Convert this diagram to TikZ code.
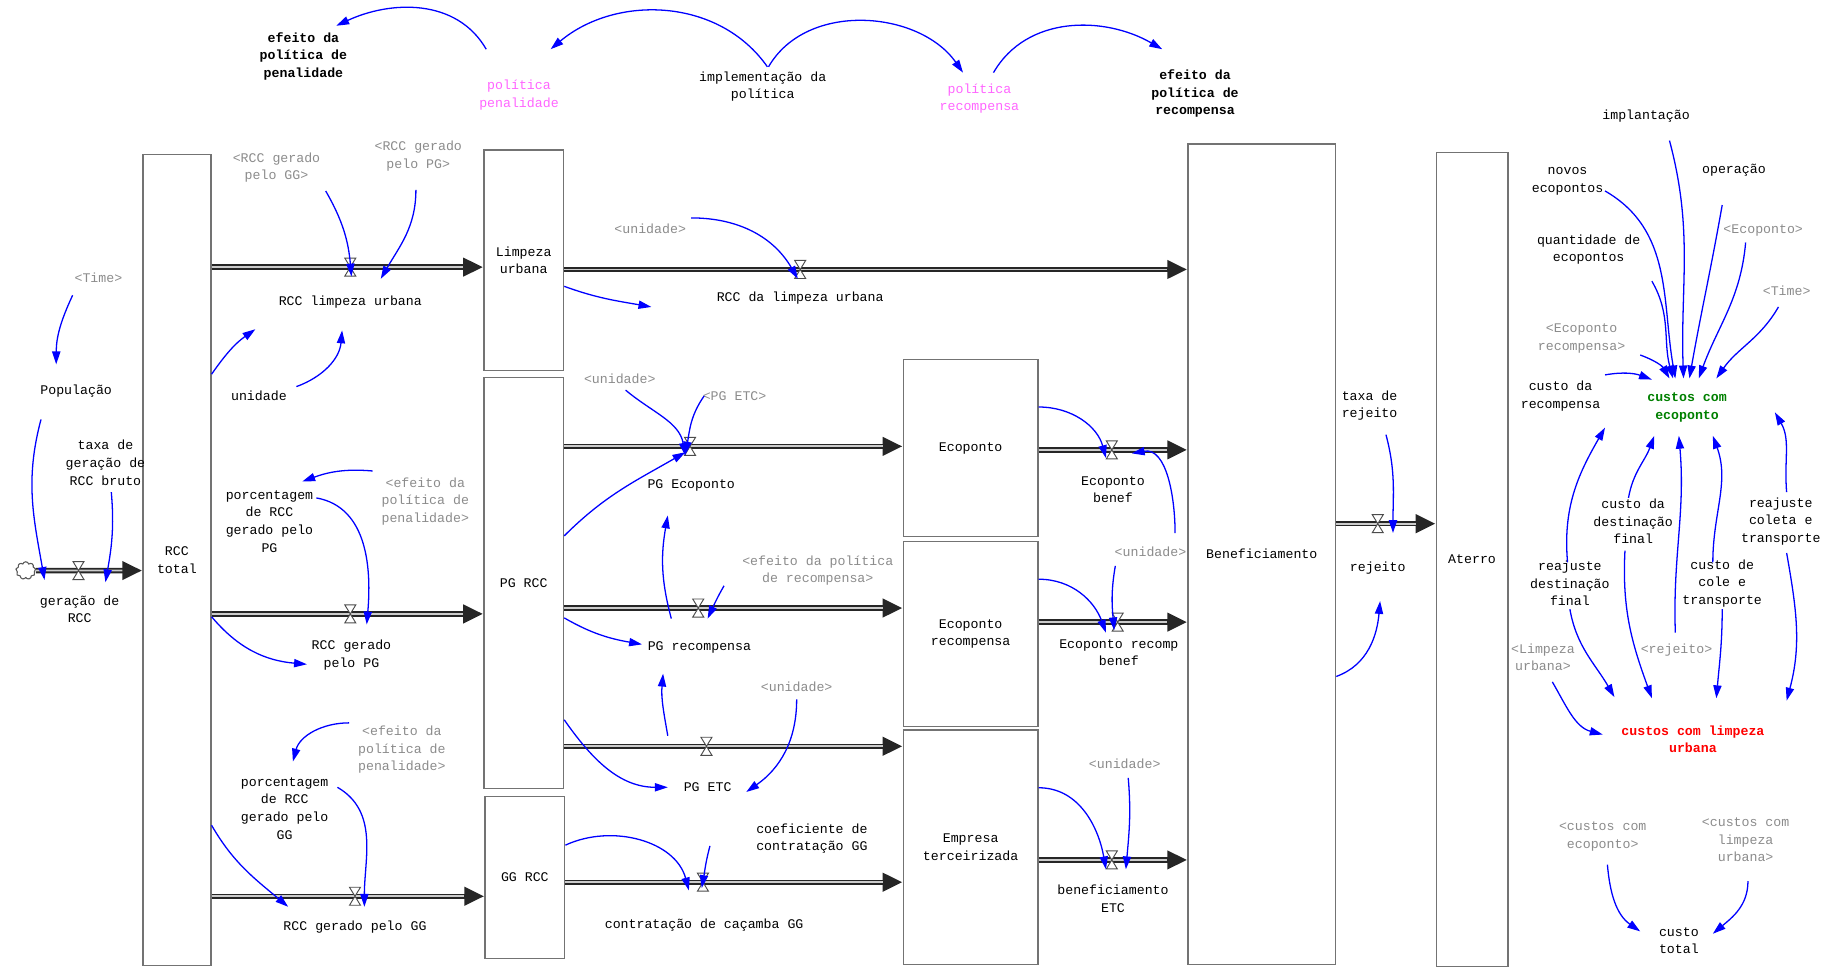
\documentclass[tikz,border=0pt]{standalone}
\usepackage{fontspec}
\setmainfont{Liberation Mono}
\usetikzlibrary{arrows.meta,calc,shapes.symbols}
\definecolor{linkblue}{RGB}{0,0,255}
\definecolor{polpink}{RGB}{255,102,255}
\definecolor{ecogreen}{RGB}{0,128,0}
\definecolor{shgrey}{RGB}{140,140,140}
\newcommand\fs{\fontsize{11.3}{15}\selectfont}
\newcommand\flowpipe[2]{\draw[pipeout] #1 -- #2; \draw[pipein] #1 -- #2;}
\newcommand\hglass[1]{\draw[valveline] (#1.north west) -- (#1.north east) -- (#1.south west) -- (#1.south east) -- cycle;}
\tikzset{
  lbl/.style={font=\fs, align=center, inner sep=1pt},
  bld/.style={lbl, font=\fs\bfseries},
  shd/.style={lbl, text=shgrey},
  stockbox/.style={draw=black!55, line width=1.2pt, fill=white, inner sep=0, font=\fs, align=center},
  valvebox/.style={inner sep=0, minimum width=9pt, minimum height=15pt},
  valveline/.style={draw=black!70, fill=white, line width=0.8pt},
  link/.style={draw=linkblue, line width=1.1pt, -{Triangle[length=11pt,width=7pt]}},
  pipeout/.style={draw=black!85, line width=4.6pt, -{Triangle[length=17pt,width=15pt]}},
  pipein/.style={draw=black!20, line width=1.6pt, shorten >=17pt},
}
\begin{document}
\begin{tikzpicture}[x=1pt,y=-1pt]
\useasboundingbox (0,0) rectangle (1568,825);
\fill[white] (0,0) rectangle (1568,825);

% ---------- stocks ----------
\node[stockbox, minimum width=58pt, minimum height=692pt] (rcct) at (151,478) {RCC\\total};
\node[stockbox, minimum width=68pt, minimum height=188pt] (limp) at (447,222) {Limpeza\\urbana};
\node[stockbox, minimum width=68pt, minimum height=351pt] (pgrcc) at (447,497.5) {PG RCC};
\node[stockbox, minimum width=68pt, minimum height=138pt] (ggrcc) at (448,749) {GG RCC};
\node[stockbox, minimum width=115pt, minimum height=151pt] (ecop) at (828.5,382.5) {Ecoponto};
\node[stockbox, minimum width=115pt, minimum height=158pt] (ecor) at (828.5,541) {Ecoponto\\recompensa};
\node[stockbox, minimum width=115pt, minimum height=200pt] (emp) at (828.5,723) {Empresa\\terceirizada};
\node[stockbox, minimum width=126pt, minimum height=700pt] (benef) at (1077,473) {Beneficiamento};
\node[stockbox, minimum width=61pt, minimum height=695pt] (aterro) at (1256.5,477.5) {Aterro};

\node[cloud, draw=black!65, fill=white, line width=0.9pt, cloud puffs=9, aspect=1.1, minimum width=17pt, minimum height=15pt, inner sep=0] (cloud) at (22,487) {};

% ---------- valves ----------
\node[valvebox] (v_ger) at (67,487) {};
\node[valvebox] (v_rlu) at (299,228) {};
\node[valvebox] (v_rdlu) at (683,230) {};
\node[valvebox] (v_pgpg) at (299,524) {};
\node[valvebox] (v_gg) at (303,765) {};
\node[valvebox] (v_pgeco) at (589,381) {};
\node[valvebox] (v_pgrec) at (596,519) {};
\node[valvebox] (v_pgetc) at (603,637) {};
\node[valvebox] (v_cont) at (600,753) {};
\node[valvebox] (v_ecob) at (949,384) {};
\node[valvebox] (v_ecorb) at (954,531) {};
\node[valvebox] (v_benetc) at (949,734) {};
\node[valvebox] (v_rej) at (1176,447) {};

% ---------- pipes ----------
\flowpipe{(cloud.east)}{(rcct.west |- v_ger)}
\flowpipe{(rcct.east |- v_rlu)}{(limp.west |- v_rlu)}
\flowpipe{(limp.east |- v_rdlu)}{(benef.west |- v_rdlu)}
\flowpipe{(rcct.east |- v_pgpg)}{(pgrcc.west |- v_pgpg)}
\flowpipe{(rcct.east |- v_gg)}{(ggrcc.west |- v_gg)}
\flowpipe{(pgrcc.east |- v_pgeco)}{(ecop.west |- v_pgeco)}
\flowpipe{(pgrcc.east |- v_pgrec)}{(ecor.west |- v_pgrec)}
\flowpipe{(pgrcc.east |- v_pgetc)}{(emp.west |- v_pgetc)}
\flowpipe{(ggrcc.east |- v_cont)}{(emp.west |- v_cont)}
\flowpipe{(ecop.east |- v_ecob)}{(benef.west |- v_ecob)}
\flowpipe{(ecor.east |- v_ecorb)}{(benef.west |- v_ecorb)}
\flowpipe{(emp.east |- v_benetc)}{(benef.west |- v_benetc)}
\flowpipe{(benef.east |- v_rej)}{(aterro.west |- v_rej)}
\foreach \v in {v_ger,v_rlu,v_rdlu,v_pgpg,v_gg,v_pgeco,v_pgrec,v_pgetc,v_cont,v_ecob,v_ecorb,v_benetc,v_rej}{\hglass{\v}}

% ---------- text variables ----------
\node[bld] (efpen) at (259,48) {efeito da\\política de\\penalidade};
\node[lbl, text=polpink] (polpen) at (443,81) {política\\penalidade};
\node[lbl] (impl) at (651,74) {implementação da\\política};
\node[lbl, text=polpink] (polrec) at (836,84) {política\\recompensa};
\node[bld] (efrec) at (1020,80) {efeito da\\política de\\recompensa};

\node[shd] (time1) at (84,237) {<Time>};
\node[lbl] (popul) at (65,334) {População};
\node[lbl] (taxager) at (90,395) {taxa de\\geração de\\RCC bruto};
\node[lbl] (gerlab) at (68,520) {geração de\\RCC};
\node[lbl] (unid1) at (221,338) {unidade};
\node[lbl] (rlulab) at (299,258) {RCC limpeza urbana};
\node[shd] (rccggsh) at (236,143) {<RCC gerado\\pelo GG>};
\node[shd] (rccpgsh) at (357,133) {<RCC gerado\\pelo PG>};
\node[lbl] (porcpg) at (230,445) {porcentagem\\de RCC\\gerado pelo\\PG};
\node[shd] (efpensha) at (363,428) {<efeito da\\política de\\penalidade>};
\node[lbl] (rccpglab) at (300,559) {RCC gerado\\pelo PG};
\node[shd] (efpenshb) at (343,640) {<efeito da\\política de\\penalidade>};
\node[lbl] (porcgg) at (243,690) {porcentagem\\de RCC\\gerado pelo\\GG};
\node[lbl] (rccgglab) at (303,791) {RCC gerado pelo GG};

\node[shd] (unidsha) at (555,195) {<unidade>};
\node[lbl] (rdlulab) at (683,254) {RCC da limpeza urbana};
\node[shd] (unidshb) at (529,323) {<unidade>};
\node[shd] (pgetcsh) at (627,338) {<PG ETC>};
\node[lbl] (pgecolab) at (590,414) {PG Ecoponto};
\node[shd] (efrecsh) at (698,487) {<efeito da política\\de recompensa>};
\node[lbl] (pgreclab) at (597,553) {PG recompensa};
\node[shd] (unidshc) at (680,586) {<unidade>};
\node[lbl] (pgetclab) at (604,672) {PG ETC};
\node[lbl] (coef) at (693,716) {coeficiente de\\contratação GG};
\node[lbl] (contlab) at (601,790) {contratação de caçamba GG};
\node[lbl] (ecoblab) at (950,418) {Ecoponto\\benef};
\node[shd] (unidshd) at (982,471) {<unidade>};
\node[lbl] (ecorblab) at (955,557) {Ecoponto recomp\\benef};
\node[shd] (unidshe) at (960,652) {<unidade>};
\node[lbl] (benetclab) at (950,767) {beneficiamento\\ETC};
\node[lbl] (taxarej) at (1169,346) {taxa de\\rejeito};
\node[lbl] (rejlab) at (1176,485) {rejeito};

\node[lbl] (implant) at (1405,99) {implantação};
\node[lbl] (oper) at (1480,145) {operação};
\node[lbl] (novos) at (1338,155) {novos\\ecopontos};
\node[lbl] (quant) at (1356,213) {quantidade de\\ecopontos};
\node[shd] (ecopsh) at (1505,197) {<Ecoponto>};
\node[shd] (time2) at (1525,248) {<Time>};
\node[shd] (ecorsh) at (1350,289) {<Ecoponto\\recompensa>};
\node[lbl] (custrec) at (1332,338) {custo da\\recompensa};
\node[bld, text=ecogreen] (custeco) at (1440,348) {custos com\\ecoponto};
\node[lbl] (custdest) at (1394,445) {custo da\\destinação\\final};
\node[lbl] (reajcol) at (1520,445) {reajuste\\coleta e\\transporte};
\node[lbl] (reajdest) at (1340,498) {reajuste\\destinação\\final};
\node[lbl] (custcol) at (1470,498) {custo de\\cole e\\transporte};
\node[shd] (limpsh) at (1317,561) {<Limpeza\\urbana>};
\node[shd] (rejsh) at (1431,555) {<rejeito>};
\node[bld, text=red] (custlimp) at (1445,631) {custos com limpeza\\urbana};
\node[shd] (custecosh) at (1368,714) {<custos com\\ecoponto>};
\node[shd] (custlimpsh) at (1490,717) {<custos com\\limpeza\\urbana>};
\node[lbl] (custtot) at (1433,803) {custo\\total};

% ---------- links ----------
\draw[link] ($(polpen)+(-28,-39)$) to[out=120,in=25] ($(efpen)+(28,-26)$);
\draw[link] ($(impl)+(4,-17)$) to[out=125,in=40] ($(polpen)+(27,-39)$);
\draw[link] ($(impl)+(5,-17)$) to[out=60,in=125] ($(polrec)+(-14,-22)$);
\draw[link] ($(polrec)+(12,-22)$) to[out=60,in=150] ($(efrec)+(-28,-38)$);

\draw[link] ($(time1)+(-22,15)$) to[out=245,in=90] ($(popul)+(-17,-23)$);
\draw[link] ($(popul)+(-30,24)$) to[out=255,in=100] ($(v_ger)+(-29,8)$);
\draw[link] ($(taxager)+(5,25)$) to[out=275,in=80] ($(v_ger)+(23,10)$);
\draw[link] ($(rcct.north east)+(0,188)$) to[out=55,in=215] ($(rlulab)+(-81,23)$);
\draw[link] ($(unid1)+(32,-8)$) to[out=20,in=265] ($(rlulab)+(-7,24)$);
\draw[link] ($(rccggsh)+(42,20)$) to[out=300,in=95] ($(v_rlu)+(1,8)$);
\draw[link] ($(rccpgsh)+(-2,29)$) to[out=270,in=60] ($(v_rlu)+(26,10)$);
\draw[link] ($(limp.north east)+(0,117)$) to[out=-20,in=170] ($(rdlulab)+(-127,8)$);
\draw[link] ($(unidsha)+(35,-9)$) to[out=0,in=120] ($(v_rdlu)+(-2,8)$);
\draw[link] ($(efpensha)+(-45,-26)$) to[out=175,in=20] ($(porcpg)+(28,-34)$);
\draw[link] ($(porcpg)+(40,-20)$) to[out=-10,in=85] ($(v_pgpg)+(14,9)$);
\draw[link] ($(rcct.north east)+(0,395)$) to[out=-50,in=175] ($(rccpglab)+(-38,8)$);
\draw[link] ($(efpenshb)+(-45,-23)$) to[out=180,in=75] ($(porcgg)+(7,-40)$);
\draw[link] ($(porcgg)+(45,-18)$) to[out=-30,in=90] ($(v_gg)+(8,9)$);
\draw[link] ($(rcct.north east)+(0,573)$) to[out=-60,in=140] ($(rccgglab)+(-57,-17)$);

\draw[link] ($(unidshb)+(5,10)$) to[out=-40,in=100] ($(v_pgeco)+(-4,8)$);
\draw[link] ($(pgetcsh)+(-26,0)$) to[out=235,in=80] ($(v_pgeco)+(-4,7)$);
\draw[link] ($(pgrcc.north east)+(0,136)$) to[out=45,in=210] ($(v_pgeco)+(-4,5)$);
\draw[link] ($(pgreclab)+(-24,-25)$) to[out=105,in=260] ($(pgecolab)+(-20,26)$);
\draw[link] ($(efrecsh)+(-80,13)$) to[out=240,in=65] ($(v_pgrec)+(8,9)$);
\draw[link] ($(pgrcc.north east)+(0,206)$) to[out=-30,in=170] ($(pgreclab)+(-49,-3)$);
\draw[link] ($(pgetclab)+(-34,-44)$) to[out=100,in=265] ($(pgreclab)+(-31,22)$);
\draw[link] ($(pgrcc.north east)+(0,293)$) to[out=-55,in=180] ($(pgetclab)+(-34,0)$);
\draw[link] ($(unidshc)+(0,11)$) to[out=270,in=35] ($(pgetclab)+(33,4)$);
\draw[link] ($(ggrcc.north east)+(0,42)$) to[out=25,in=105] ($(v_cont)+(-12,7)$);
\draw[link] ($(coef)+(-87,6)$) to[out=255,in=80] ($(v_cont)+(-1,5)$);
\draw[link] ($(ecop.north east)+(0,41)$) to[out=0,in=105] ($(v_ecob)+(-5,7)$);
\draw[link] ($(unidshd)+(21,-16)$) to[out=90,in=10] ($(v_ecob)+(17,3)$);
\draw[link] ($(unidshd)+(-30,12)$) to[out=260,in=95] ($(v_ecorb)+(-3,7)$);
\draw[link] ($(ecor.north east)+(0,33)$) to[out=0,in=110] ($(v_ecorb)+(-10,9)$);
\draw[link] ($(emp.north east)+(0,50)$) to[out=0,in=100] ($(v_benetc)+(-5,8)$);
\draw[link] ($(unidshe)+(3,12)$) to[out=275,in=85] ($(v_benetc)+(12,8)$);
\draw[link] ($(taxarej)+(14,25)$) to[out=-75,in=90] ($(v_rej)+(13,8)$);
\draw[link] ($(benef.north east)+(0,455)$) to[out=20,in=265] ($(rejlab)+(2,28)$);

\draw[link] ($(implant)+(20,21)$) to[out=-75,in=92] ($(custeco)+(-3,-25)$);
\draw[link] ($(oper)+(-10,30)$) to[out=260,in=80] ($(custeco)+(2,-25)$);
\draw[link] ($(novos)+(32,8)$) to[out=-30,in=100] ($(custeco)+(-10,-25)$);
\draw[link] ($(quant)+(54,27)$) to[out=-60,in=105] ($(custeco)+(-12,-25)$);
\draw[link] ($(ecopsh)+(-15,10)$) to[out=265,in=70] ($(custeco)+(10,-25)$);
\draw[link] ($(time2)+(-7,14)$) to[out=240,in=55] ($(custeco)+(25,-25)$);
\draw[link] ($(ecorsh)+(50,14)$) to[out=-20,in=120] ($(custeco)+(-15,-25)$);
\draw[link] ($(custrec)+(38,-18)$) to[out=10,in=160] ($(custeco)+(-30,-24)$);

\draw[link] ($(reajdest)+(-2,-18)$) to[out=95,in=240] ($(custeco)+(-70,17)$);
\draw[link] ($(custdest)+(-4,-20)$) to[out=80,in=250] ($(custeco)+(-28,24)$);
\draw[link] ($(rejsh)+(-1,-15)$) to[out=92,in=275] ($(custeco)+(-7,24)$);
\draw[link] ($(custcol)+(-8,-18)$) to[out=90,in=290] ($(custeco)+(22,24)$);
\draw[link] ($(reajcol)+(5,-25)$) to[out=95,in=300] ($(custeco)+(75,4)$);

\draw[link] ($(reajdest)+(0,22)$) to[out=-80,in=120] ($(custlimp)+(-67,-36)$);
\draw[link] ($(custdest)+(-7,25)$) to[out=-93,in=110] ($(custlimp)+(-35,-35)$);
\draw[link] ($(custcol)+(0,22)$) to[out=-90,in=85] ($(custlimp)+(20,-35)$);
\draw[link] ($(reajcol)+(5,27)$) to[out=-80,in=75] ($(custlimp)+(80,-33)$);
\draw[link] ($(limpsh)+(8,21)$) to[out=-60,in=165] ($(custlimp)+(-77,-4)$);
\draw[link] ($(custecosh)+(4,24)$) to[out=-85,in=145] ($(custtot)+(-33,-8)$);
\draw[link] ($(custlimpsh)+(2,35)$) to[out=-90,in=40] ($(custtot)+(29,-6)$);
\end{tikzpicture}
\end{document}
